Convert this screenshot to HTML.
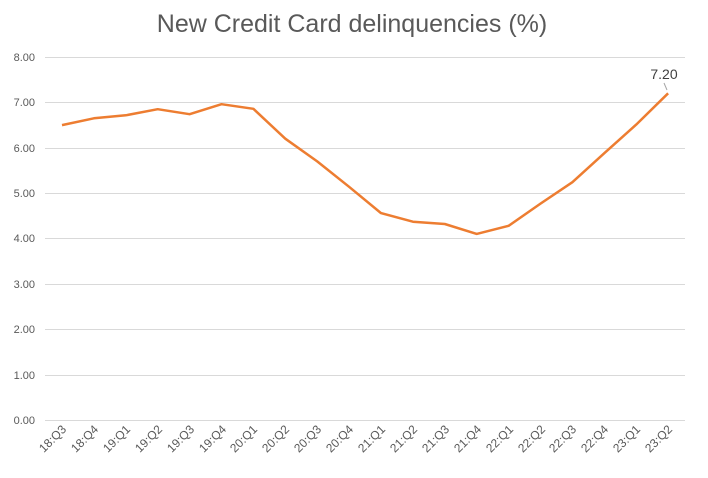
<!DOCTYPE html><html><head><meta charset="utf-8"><style>body{margin:0;background:#fff}svg{display:block;font-family:"Liberation Sans",sans-serif}</style></head><body>
<svg width="708" height="478" viewBox="0 0 708 478">
<text x="352" y="32" text-anchor="middle" font-size="25" fill="#595959">New Credit Card delinquencies (%)</text>
<g stroke="#d9d9d9" stroke-width="1">
<line x1="45" x2="685" y1="420.5" y2="420.5"/><line x1="45" x2="685" y1="375.5" y2="375.5"/><line x1="45" x2="685" y1="329.5" y2="329.5"/><line x1="45" x2="685" y1="284.5" y2="284.5"/><line x1="45" x2="685" y1="238.5" y2="238.5"/><line x1="45" x2="685" y1="193.5" y2="193.5"/><line x1="45" x2="685" y1="148.5" y2="148.5"/><line x1="45" x2="685" y1="102.5" y2="102.5"/><line x1="45" x2="685" y1="57.5" y2="57.5"/>
</g>
<g font-size="11" fill="#595959" text-anchor="end">
<text x="35" y="424">0.00</text><text x="35" y="379">1.00</text><text x="35" y="333">2.00</text><text x="35" y="288">3.00</text><text x="35" y="242">4.00</text><text x="35" y="197">5.00</text><text x="35" y="152">6.00</text><text x="35" y="106">7.00</text><text x="35" y="61">8.00</text>
</g>
<g font-size="12" fill="#595959" text-anchor="end">
<text transform="translate(67,430) rotate(-45)">18:Q3</text>
<text transform="translate(99,430) rotate(-45)">18:Q4</text>
<text transform="translate(131,430) rotate(-45)">19:Q1</text>
<text transform="translate(163,430) rotate(-45)">19:Q2</text>
<text transform="translate(195,430) rotate(-45)">19:Q3</text>
<text transform="translate(227,430) rotate(-45)">19:Q4</text>
<text transform="translate(258,430) rotate(-45)">20:Q1</text>
<text transform="translate(290,430) rotate(-45)">20:Q2</text>
<text transform="translate(322,430) rotate(-45)">20:Q3</text>
<text transform="translate(354,430) rotate(-45)">20:Q4</text>
<text transform="translate(386,430) rotate(-45)">21:Q1</text>
<text transform="translate(418,430) rotate(-45)">21:Q2</text>
<text transform="translate(450,430) rotate(-45)">21:Q3</text>
<text transform="translate(482,430) rotate(-45)">21:Q4</text>
<text transform="translate(514,430) rotate(-45)">22:Q1</text>
<text transform="translate(546,430) rotate(-45)">22:Q2</text>
<text transform="translate(577,430) rotate(-45)">22:Q3</text>
<text transform="translate(609,430) rotate(-45)">22:Q4</text>
<text transform="translate(641,430) rotate(-45)">23:Q1</text>
<text transform="translate(673,430) rotate(-45)">23:Q2</text>
</g>
<polyline fill="none" stroke="#ed7d31" stroke-width="2.5" stroke-linejoin="round" points="62,125.1 93.9,118.3 125.8,115.3 157.7,109.2 189.6,114.2 221.5,104.2 253.4,108.8 285.3,138.7 317.2,161.4 349.1,186.8 381,213.1 412.9,221.7 444.8,224 476.7,233.9 508.6,225.8 540.5,203.6 572.4,182.2 604.3,153.2 636.2,124.6 668.1,93.3"/>
<line x1="664" y1="83" x2="667" y2="90" stroke="#a6a6a6" stroke-width="1"/>
<text x="664" y="79" text-anchor="middle" font-size="14" fill="#404040">7.20</text>
</svg>
</body></html>
